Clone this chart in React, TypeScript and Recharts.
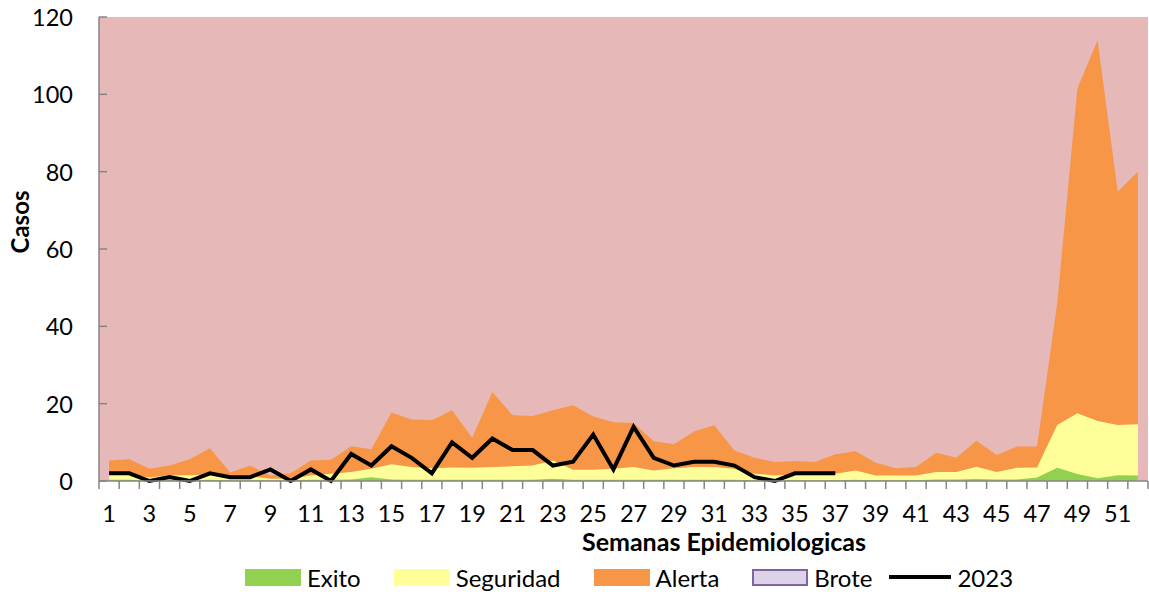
import { Area, CartesianGrid, ComposedChart, Line, XAxis, YAxis } from 'recharts'

// semanas epidemiologicas
const weeks = [
  '1', '2', '3', '4', '5', '6', '7', '8', '9', '10', '11', '12', '13',
  '14', '15', '16', '17', '18', '19', '20', '21', '22', '23', '24', '25', '26',
  '27', '28', '29', '30', '31', '32', '33', '34', '35', '36', '37', '38', '39',
  '40', '41', '42', '43', '44', '45', '46', '47', '48', '49', '50', '51', '52',
]

// upper limit of each zone
const exito = [
  0.3, 0.3, 0.2, 0.3, 0.2, 0.3, 0.2, 0.2, 0.2, 0.2, 0.3, 0.3, 0.4,
  1.0, 0.4, 0.3, 0.3, 0.3, 0.3, 0.3, 0.3, 0.3, 0.6, 0.3, 0.3, 0.3,
  0.3, 0.3, 0.3, 0.3, 0.3, 0.3, 0.2, 0.2, 0.2, 0.2, 0.2, 0.3, 0.2,
  0.2, 0.2, 0.4, 0.4, 0.5, 0.4, 0.4, 0.9, 3.4, 1.8, 0.7, 1.5, 1.4,
]
const seguridad = [
  1.7, 1.7, 0.9, 1.5, 1.5, 1.7, 1.2, 1.2, 0.6, 0.6, 1.4, 1.9, 2.3,
  3.2, 4.3, 3.6, 3.3, 3.5, 3.4, 3.6, 3.8, 4.0, 5.3, 2.9, 2.9, 3.2,
  3.6, 2.7, 3.3, 3.6, 3.6, 3.2, 1.9, 1.4, 1.7, 1.9, 1.9, 2.7, 1.4,
  1.4, 1.4, 2.3, 2.3, 3.7, 2.3, 3.4, 3.5, 14.5, 17.5, 15.5, 14.5, 14.7,
]
const alerta = [
  5.3, 5.6, 3.2, 4.0, 5.6, 8.5, 2.2, 4.0, 1.4, 2.0, 5.3, 5.5, 9.0,
  8.2, 17.7, 15.9, 15.7, 18.3, 11.2, 23.0, 17.0, 16.8, 18.3, 19.6, 16.7, 15.2,
  15.0, 10.3, 9.5, 12.8, 14.4, 7.9, 6.0, 4.9, 5.2, 4.9, 6.9, 7.7, 4.7,
  3.3, 3.6, 7.3, 6.0, 10.4, 6.7, 8.9, 8.9, 46.0, 101.5, 114.0, 74.8, 80.0,
]
// casos 2023 (hasta la semana 37)
const casos2023 = [
  2, 2, 0, 1, 0, 2, 1, 1, 3, 0, 3, 0, 7,
  4, 9, 6, 2, 10, 6, 11, 8, 8, 4, 5, 12, 3,
  14, 6, 4, 5, 5, 4, 1, 0, 2, 2, 2,
]
const yTicks = [0, 20, 40, 60, 80, 100, 120]

const data = weeks.map((w, i) => ({
  week: w,
  exito: exito[i],
  seguridad: seguridad[i],
  alerta: alerta[i],
  y2023: i < casos2023.length ? casos2023[i] : null,
}))

const FONT = 'Lato, "Noto Sans", sans-serif'
const AXIS = '#868686'
const HALF_BAND = 10.08

function YTick({ x, y, payload }: any) {
  return (
    <g>
      <line x1={x} x2={x + 8} y1={y} y2={y} stroke={AXIS} strokeWidth={1.5} />
      <text x={x - 26} y={y} textAnchor="end" dominantBaseline="central" fontSize={23.5} fontFamily={FONT} fill="#000">
        {payload.value}
      </text>
    </g>
  )
}

function XTick({ x, y, payload, index }: any) {
  const odd = index % 2 === 0
  return (
    <g>
      <line x1={x - HALF_BAND} x2={x - HALF_BAND} y1={y} y2={y + 8} stroke={AXIS} strokeWidth={1.5} />
      {index === weeks.length - 1 && (
        <line x1={x + HALF_BAND} x2={x + HALF_BAND} y1={y} y2={y + 8} stroke={AXIS} strokeWidth={1.5} />
      )}
      {odd && (
        <text x={x} y={y + 32} textAnchor="middle" dominantBaseline="central" fontSize={23.5} fontFamily={FONT} fill="#000">
          {payload.value}
        </text>
      )}
    </g>
  )
}

const legendItems = [
  { label: 'Exito', fill: '#92D050', border: '#92D050' },
  { label: 'Seguridad', fill: '#FFFF99', border: '#FFFF99' },
  { label: 'Alerta', fill: '#F79646', border: '#F79646' },
  { label: 'Brote', fill: '#DCD3E8', border: '#8064A2' },
]

export default function App() {
  return (
    <div style={{ position: 'absolute', left: 0, top: 0, width: 1149, height: 592, background: '#fff', fontFamily: FONT }}>
      <ComposedChart width={1149} height={592} data={data} margin={{ top: 17, right: 1, left: 0, bottom: 81 }}>
        <CartesianGrid fill="#E6B8B7" horizontal={false} vertical={false} />
        <XAxis
          dataKey="week"
          scale="point"
          padding={{ left: HALF_BAND, right: HALF_BAND }}
          height={30}
          interval={0}
          tickSize={0}
          tickMargin={0}
          tickLine={false}
          axisLine={{ stroke: AXIS, strokeWidth: 1.5 }}
          tick={<XTick />}
        />
        <YAxis
          width={99}
          domain={[0, 120]}
          ticks={yTicks}
          interval={0}
          tickSize={0}
          tickMargin={0}
          tickLine={false}
          axisLine={{ stroke: AXIS, strokeWidth: 1.5 }}
          tick={<YTick />}
        />
        <Area dataKey="alerta" type="linear" stroke="none" fill="#F79646" fillOpacity={1} isAnimationActive={false} />
        <Area dataKey="seguridad" type="linear" stroke="none" fill="#FFFF99" fillOpacity={1} isAnimationActive={false} />
        <Area dataKey="exito" type="linear" stroke="none" fill="#92D050" fillOpacity={1} isAnimationActive={false} />
        <Line
          dataKey="y2023"
          type="linear"
          stroke="#000"
          strokeWidth={4}
          dot={false}
          connectNulls={false}
          isAnimationActive={false}
        />
      </ComposedChart>

      <div
        style={{
          position: 'absolute', left: 19, top: 222, transform: 'translate(-50%, -50%) rotate(-90deg)',
          fontSize: 24, fontWeight: 700, whiteSpace: 'nowrap',
        }}
      >
        Casos
      </div>
      <div
        style={{
          position: 'absolute', left: 724, top: 541, transform: 'translate(-50%, -50%)',
          fontSize: 25, fontWeight: 700, whiteSpace: 'nowrap',
        }}
      >
        Semanas Epidemiologicas
      </div>

      <div style={{ position: 'absolute', left: 245, top: 564, height: 26, display: 'flex', alignItems: 'center', gap: 33, fontSize: 24 }}>
        {legendItems.map((it) => (
          <div key={it.label} style={{ display: 'flex', alignItems: 'center', gap: 6 }}>
            <div style={{ width: 56, height: 17, background: it.fill, border: `2px solid ${it.border}`, boxSizing: 'border-box' }} />
            <span>{it.label}</span>
          </div>
        ))}
        <div style={{ display: 'flex', alignItems: 'center', gap: 6, marginLeft: -16 }}>
          <div style={{ width: 62, height: 4, background: '#000' }} />
          <span>2023</span>
        </div>
      </div>
    </div>
  )
}
